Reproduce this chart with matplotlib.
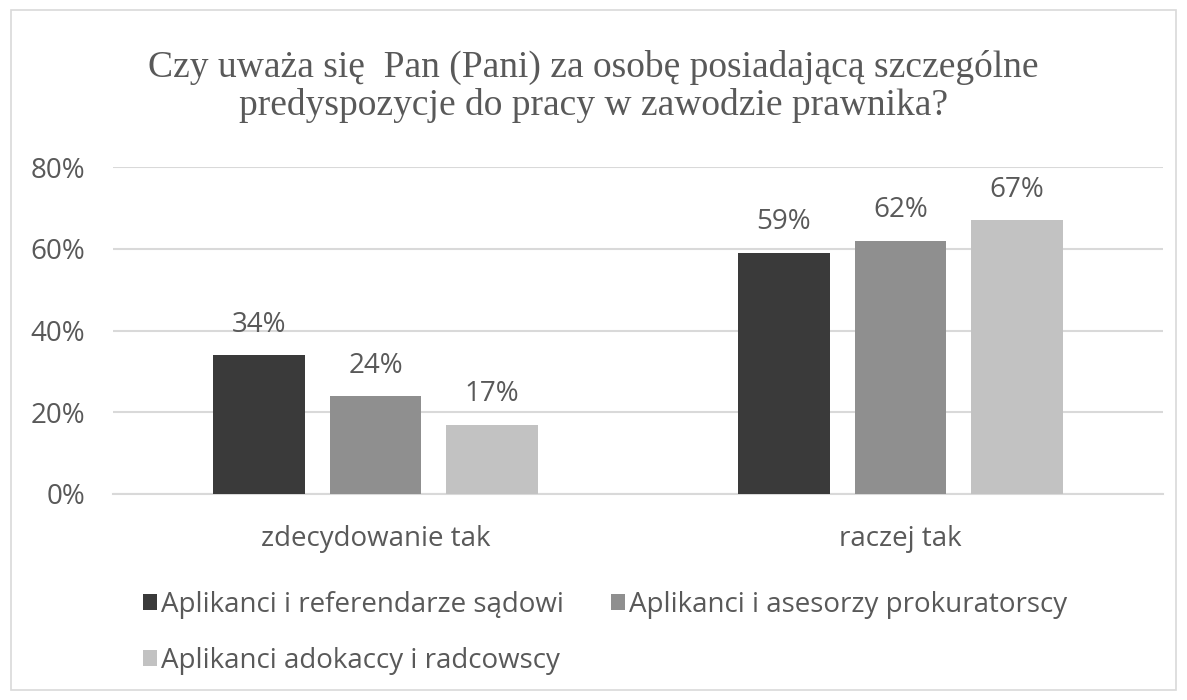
import matplotlib.pyplot as plt
import numpy as np
from matplotlib.patches import Rectangle

# dane
categories = ['zdecydowanie tak', 'raczej tak']
series = ['Aplikanci i referendarze sądowi',
          'Aplikanci i asesorzy prokuratorscy',
          'Aplikanci adokaccy i radcowscy']
values = [[34, 59], [24, 62], [17, 67]]
colors = ['#3a3a3a', '#8f8f8f', '#c2c2c2']
yticks = [0, 20, 40, 60, 80]

plt.rcParams['font.family'] = ['Open Sans', 'DejaVu Sans']
txt = '#595959'
fs = 20

fig = plt.figure(figsize=(11.87, 7), dpi=100)
fig.patches.append(Rectangle((0.009, 0.014), 0.982, 0.972, transform=fig.transFigure,
                             fill=False, edgecolor='#d9d9d9', linewidth=1.2))
ax = fig.add_axes([113 / 1187, 1 - 494 / 700, 1050 / 1187, 327 / 700])

x = np.arange(len(categories))
w = 0.175
step = 0.222
handles = []
for i, (name, vals) in enumerate(zip(series, values)):
    bars = ax.bar(x + (i - 1) * step, vals, w, color=colors[i], label=name, zorder=3)
    handles.append(bars)
    for b, v in zip(bars, vals):
        ax.text(b.get_x() + b.get_width() / 2, v + 4, f'{v}%', ha='center', va='bottom',
                fontsize=fs, color=txt)

ax.set_xlim(-0.5, 1.5)
ax.set_ylim(0, 80)
ax.set_yticks(yticks)
ax.set_yticklabels([f'{t}%' for t in yticks], fontsize=fs, color=txt)
ax.set_xticks(x)
ax.set_xticklabels(categories, fontsize=fs, color=txt)
ax.tick_params(axis='y', length=0, pad=20)
ax.tick_params(axis='x', length=0, pad=22)
ax.grid(axis='y', color='#d9d9d9', linewidth=1.5, zorder=0)
for s in ['top', 'right', 'left']:
    ax.spines[s].set_visible(False)
ax.spines['bottom'].set_color('#d9d9d9')
ax.spines['bottom'].set_linewidth(1.5)

fig.text(0.5, 0.877, 'Czy uważa się  Pan (Pani) za osobę posiadającą szczególne\n'
         'predyspozycje do pracy w zawodzie prawnika?',
         ha='center', va='center', fontsize=27, color=txt,
         family='Liberation Serif', linespacing=1.1)

# kolejność wierszami: 1, 2 w pierwszym wierszu, 3 w drugim
order = [0, 2, 1]
leg = fig.legend([handles[i] for i in order], [series[i] for i in order],
                 loc='upper left', bbox_to_anchor=(143 / 1187, 1 - 591 / 700), ncol=2,
                 frameon=False, fontsize=fs, handlelength=0.5, handleheight=0.5,
                 handletextpad=0.15, columnspacing=1.7, labelspacing=1.0,
                 borderpad=0, borderaxespad=0)
for t in leg.get_texts():
    t.set_color(txt)

plt.savefig('out.png', dpi=100)
